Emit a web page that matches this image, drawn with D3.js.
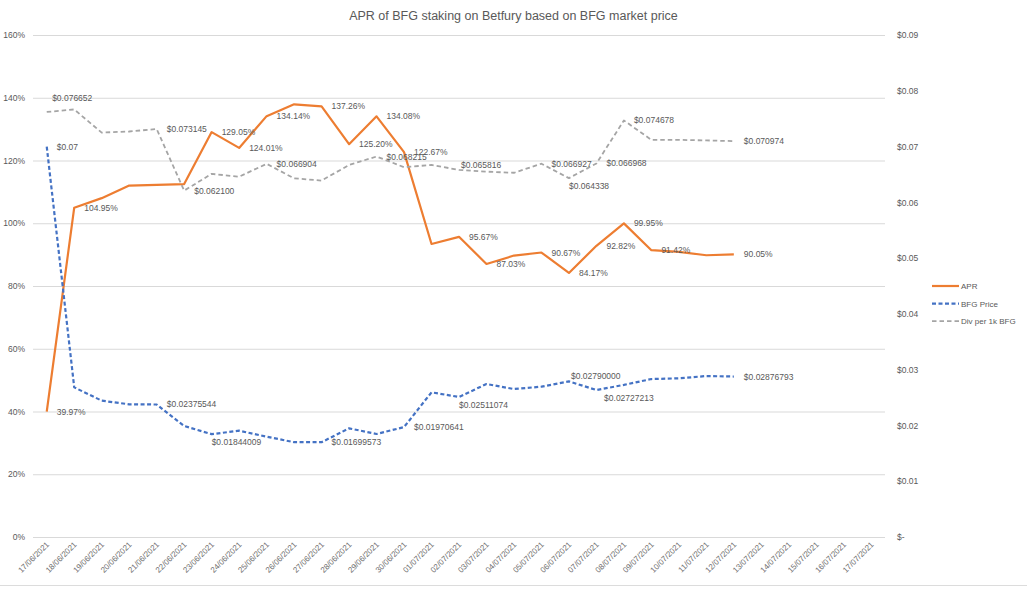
<!DOCTYPE html>
<html>
<head>
<meta charset="utf-8">
<script src="https://cdn.jsdelivr.net/npm/d3@7"></script>
<style>
  body { margin: 0; background: #fff; }
  svg { display: block; font-family: "Liberation Sans", Arial, sans-serif; }
</style>
</head>
<body>
<svg id="chart" width="1027" height="590"></svg>
<script>
// ---------------- data ----------------
const dates = [
  "17/06/2021", "18/06/2021", "19/06/2021", "20/06/2021", "21/06/2021", "22/06/2021",
  "23/06/2021", "24/06/2021", "25/06/2021", "26/06/2021", "27/06/2021", "28/06/2021",
  "29/06/2021", "30/06/2021", "01/07/2021", "02/07/2021", "03/07/2021", "04/07/2021",
  "05/07/2021", "06/07/2021", "07/07/2021", "08/07/2021", "09/07/2021", "10/07/2021",
  "11/07/2021", "12/07/2021", "13/07/2021", "14/07/2021", "15/07/2021", "16/07/2021",
  "17/07/2021"
];

// APR in percent
const apr = [39.97, 104.95, 108.0, 112.0, 112.2, 112.5, 129.05, 124.01, 134.14, 137.9,
  137.26, 125.20, 134.08, 122.67, 93.4, 95.67, 87.03, 89.7, 90.67, 84.17,
  92.82, 99.95, 91.42, 90.9, 89.8, 90.05];

// BFG market price in $
const bfgPrice = [0.07, 0.02683, 0.02444, 0.02379, 0.02375544, 0.0199, 0.01844009, 0.01906,
  0.01798, 0.01700, 0.01699573, 0.01948, 0.01847, 0.01970641, 0.02594, 0.02511074,
  0.02743, 0.02653, 0.02695, 0.02790000, 0.02635, 0.02727213, 0.02832, 0.02845,
  0.02886, 0.02876793];

// dividend per 1k BFG in $
const divPer1k = [0.0762, 0.076652, 0.0725, 0.0727, 0.073145, 0.062100, 0.0651, 0.0646,
  0.066904, 0.0643, 0.0639, 0.0667, 0.068215, 0.0663, 0.0667, 0.065816, 0.0655,
  0.0653, 0.066927, 0.064338, 0.066968, 0.074678, 0.0712, 0.0712, 0.0711, 0.070974];

const leftTicks = [0, 20, 40, 60, 80, 100, 120, 140, 160];
const rightTicks = [0, 0.01, 0.02, 0.03, 0.04, 0.05, 0.06, 0.07, 0.08, 0.09];

// which points carry a data label, and where the label sits
const aprLabels = [0, 1, 6, 7, 8, 10, 11, 12, 13, 15, 16, 18, 19, 20, 21, 22, 25].map(i => [i, "r"]);
const priceLabels = [[0, "r"], [4, "r"], [6, "rb"], [10, "r"], [13, "r"], [15, "rb"], [19, "ra"], [21, "b"], [25, "r"]];
const divLabels = [[1, "a"], [4, "r"], [5, "r"], [8, "r"], [12, "r"], [15, "ra"], [18, "r"], [19, "rb"], [20, "r"], [21, "r"], [25, "r"]];

// ---------------- layout ----------------
const svg = d3.select("#chart"),
    width = +svg.attr("width"),
    height = +svg.attr("height"),
    plot = { left: 33, right: 885, top: 35, bottom: 537 };

const textColor = "#595959";

svg.append("rect").attr("width", width).attr("height", height).attr("fill", "#fff");

// frame edge at the bottom
svg.append("line")
    .attr("x1", 0).attr("x2", width)
    .attr("y1", 585.5).attr("y2", 585.5)
    .attr("stroke", "#dcdcdc");

// Scales
const x = d3.scaleBand()
    .domain(dates)
    .range([plot.left, plot.right])
    .padding(0);
const cx = d => x(d) + x.bandwidth() / 2;

const yL = d3.scaleLinear().domain([0, 160]).range([plot.bottom, plot.top]);
const yR = d3.scaleLinear().domain([0, 0.09]).range([plot.bottom, plot.top]);

// Gridlines
svg.append("g")
    .attr("transform", `translate(${plot.left},0)`)
    .call(d3.axisLeft(yL).tickValues(leftTicks).tickSize(-(plot.right - plot.left)).tickFormat(""))
    .call(g => g.select(".domain").remove())
    .call(g => g.selectAll("line").attr("stroke", "#d9d9d9").attr("stroke-width", 1));

// Left axis
svg.append("g")
    .attr("transform", `translate(${plot.left - 8},0)`)
    .call(d3.axisLeft(yL).tickValues(leftTicks).tickSize(0).tickPadding(0).tickFormat(d => d + "%"))
    .call(g => g.select(".domain").remove())
    .call(g => g.selectAll("text").attr("fill", textColor).style("font-size", "8.5px"));

// Right axis
svg.append("g")
    .attr("transform", `translate(${plot.right + 12},0)`)
    .call(d3.axisRight(yR).tickValues(rightTicks).tickSize(0).tickPadding(0)
        .tickFormat(d => d === 0 ? "$-" : "$" + d.toFixed(2)))
    .call(g => g.select(".domain").remove())
    .call(g => g.selectAll("text").attr("fill", textColor).style("font-size", "8.5px"));

// X axis
svg.append("g")
    .attr("transform", `translate(0,${plot.bottom})`)
    .call(d3.axisBottom(x).tickSize(0).tickPadding(0))
    .call(g => g.select(".domain").remove())
    .call(g => g.selectAll("text")
        .attr("fill", "#6e6e6e")
        .style("font-size", "8px")
        .attr("text-anchor", "end")
        .attr("dy", null)
        .attr("y", 0)
        .attr("transform", "translate(3,8) rotate(-45)"));

// Lines
const series = [
  { name: "APR", values: apr, y: yL, color: "#ed7d31", width: 2.2, dash: null,
    labels: aprLabels, fmt: v => v.toFixed(2) + "%" },
  { name: "BFG Price", values: bfgPrice, y: yR, color: "#4472c4", width: 2.2, dash: "4,2.5",
    labels: priceLabels, fmt: v => v === 0.07 ? "$0.07" : "$" + v.toFixed(8) },
  { name: "Div per 1k BFG", values: divPer1k, y: yR, color: "#a5a5a5", width: 1.8, dash: "4.5,3",
    labels: divLabels, fmt: v => "$" + v.toFixed(6) }
];

series.forEach(s => {
  const line = d3.line()
      .x((d, i) => cx(dates[i]))
      .y(d => s.y(d));
  svg.append("path")
      .datum(s.values)
      .attr("fill", "none")
      .attr("stroke", s.color)
      .attr("stroke-width", s.width)
      .attr("stroke-dasharray", s.dash)
      .attr("stroke-linejoin", "round")
      .attr("d", line);
});

// Data labels
const place = {
  r:  { dx: 10, dy: 3, anchor: "start" },
  a:  { dx: -2, dy: -8, anchor: "middle" },
  b:  { dx: 5, dy: 16, anchor: "middle" },
  rb: { dx: 0, dy: 11, anchor: "start" },
  ra: { dx: 2, dy: -2, anchor: "start" }
};

series.forEach(s => {
  svg.append("g").selectAll("text")
      .data(s.labels)
      .join("text")
      .attr("x", ([i, p]) => cx(dates[i]) + place[p].dx)
      .attr("y", ([i, p]) => s.y(s.values[i]) + place[p].dy)
      .attr("text-anchor", ([i, p]) => place[p].anchor)
      .attr("fill", textColor)
      .style("font-size", "8.5px")
      .text(([i]) => s.fmt(s.values[i]));
});

// Title
svg.append("text")
    .attr("x", width / 2)
    .attr("y", 20)
    .attr("text-anchor", "middle")
    .attr("fill", textColor)
    .style("font-size", "12.5px")
    .text("APR of BFG staking on Betfury based on BFG market price");

// Legend
const legend = svg.append("g").attr("transform", "translate(932,286)");
series.forEach((s, i) => {
  const g = legend.append("g").attr("transform", `translate(0,${i * 17.6})`);
  g.append("line")
      .attr("x1", 0).attr("x2", 27)
      .attr("stroke", s.color)
      .attr("stroke-width", s.width)
      .attr("stroke-dasharray", s.dash);
  g.append("text")
      .attr("x", 29)
      .attr("y", 3)
      .attr("fill", textColor)
      .style("font-size", "8px")
      .text(s.name);
});
</script>
</body>
</html>
